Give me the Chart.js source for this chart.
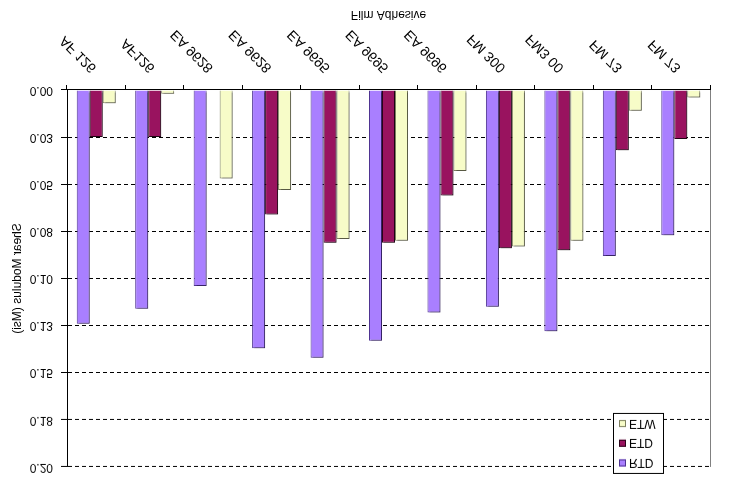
<!DOCTYPE html>
<html>
<head>
<meta charset="utf-8">
<script src="https://cdn.jsdelivr.net/npm/chart.js@4"></script>
<style>
  body { margin: 0; background: #fff; }
  #wrap { width: 739px; height: 490px; }
  /* the reference is a vertically mirrored picture of the chart */
  #chart { transform: scaleY(-1); }
</style>
</head>
<body>
<div id="wrap"><canvas id="chart" width="739" height="490"></canvas></div>
<script>
var categories = ['AF 126', 'AF126', 'EA 9628', 'EA 9628', 'EA 9695', 'EA 9695', 'EA 9696', 'FM 300', 'FM3 00', 'FM 73', 'FM 73'];
var rtd = [0.124, 0.116, 0.104, 0.137, 0.142, 0.133, 0.118, 0.115, 0.128, 0.088, 0.077];
var etd = [0.025, 0.025, null, 0.066, 0.081, 0.081, 0.056, 0.084, 0.085, 0.032, 0.026];
var etw = [0.007, 0.002, 0.047, 0.053, 0.079, 0.080, 0.043, 0.083, 0.080, 0.011, 0.004];
var yTickLabels = ['0.00', '0.03', '0.05', '0.08', '0.10', '0.13', '0.15', '0.18', '0.20'];

var fontFam = "'Liberation Sans', Arial, sans-serif";

var frame = {
    id: 'frame',
    beforeDatasetsDraw: function(chart) {
        var c = chart.ctx;
        c.save();
        c.shadowColor = 'rgba(0,0,0,0.3)';
        c.shadowOffsetX = 2;
        c.shadowOffsetY = -2;
        c.shadowBlur = 0;
    },
    afterDatasetsDraw: function(chart) {
        chart.ctx.restore();
    },
    afterDraw: function(chart) {
        var c = chart.ctx, a = chart.chartArea;
        c.save();
        // grey plot area edge on the right
        c.strokeStyle = '#808080';
        c.lineWidth = 1;
        c.beginPath();
        c.moveTo(Math.round(a.right) + 0.5, a.top);
        c.lineTo(Math.round(a.right) + 0.5, a.bottom);
        c.stroke();
        // legend box
        var bx = Math.round(a.right) - 97, by = Math.round(a.top) - 7;
        c.fillStyle = '#fff';
        c.fillRect(bx, by, 50, 60);
        c.strokeStyle = '#000';
        c.strokeRect(bx + 0.5, by + 0.5, 50, 60);
        c.font = '12px ' + fontFam;
        c.textBaseline = 'middle';
        chart.data.datasets.forEach(function(ds, i) {
            var y = by + 11 + i * 19.7;
            c.fillStyle = ds.backgroundColor;
            c.fillRect(bx + 6, y - 3.5, 7, 7);
            c.strokeStyle = ds.borderColor;
            c.strokeRect(bx + 6.5, y - 3, 6, 6);
            c.fillStyle = '#000';
            c.fillText(ds.label, bx + 16, y + 0.5);
        });
        c.restore();
    }
};

new Chart(document.getElementById('chart'), {
    type: 'bar',
    data: {
        labels: categories,
        datasets: [
            { label: 'RTD', data: rtd, backgroundColor: '#A97FFF', borderColor: '#4E3391', borderWidth: 1 },
            { label: 'ETD', data: etd, backgroundColor: '#99135F', borderColor: '#2A0318', borderWidth: 1 },
            { label: 'ETW', data: etw, backgroundColor: '#F7FCC8', borderColor: '#7E8060', borderWidth: 1 }
        ]
    },
    plugins: [frame],
    options: {
        responsive: false,
        animation: false,
        layout: { padding: { top: 23, right: 29, left: 0, bottom: 0 } },
        datasets: { bar: { categoryPercentage: 0.667, barPercentage: 1 } },
        plugins: { legend: { display: false }, tooltip: { enabled: false } },
        scales: {
            x: {
                afterFit: function(s) { s.height = 90; },
                grid: { offset: true, drawOnChartArea: false, color: '#000', tickLength: 5 },
                border: { display: true, color: '#000', width: 1 },
                ticks: { minRotation: 45, maxRotation: 45, padding: 9, labelOffset: -2, color: '#000', font: { family: fontFam, size: 14 } },
                title: { display: true, text: 'Film Adhesive', color: '#000', padding: { top: 4, bottom: 7 }, font: { family: fontFam, size: 12 } }
            },
            y: {
                min: 0,
                max: 0.2,
                afterFit: function(s) { s.width = 67; },
                grid: { color: '#000', tickColor: '#000', tickLength: 6, tickBorderDash: [] },
                border: { display: true, color: '#000', width: 1, dash: [4, 3] },
                ticks: {
                    stepSize: 0.025,
                    padding: 8,
                    color: '#000',
                    font: { family: fontFam, size: 12 },
                    callback: function(v, i) { return yTickLabels[i]; }
                },
                title: { display: true, text: 'Shear Modulus (Msi)', color: '#000', padding: { top: 10, bottom: 4 }, font: { family: fontFam, size: 12 } }
            }
        }
    }
});
</script>
</body>
</html>
